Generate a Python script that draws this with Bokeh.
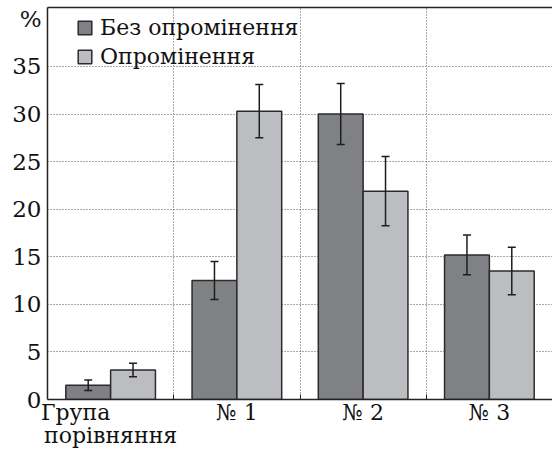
from bokeh.plotting import figure
from bokeh.models import (ColumnDataSource, FixedTicker, LinearAxis, Range1d,
                          Whisker, TeeHead, Legend, LegendItem)
from bokeh.transform import dodge
from bokeh.embed import file_html
from bokeh.resources import INLINE

categories = ["Група\u00a0\u00a0\u00a0\u00a0\u00a0\u00a0\u00a0\u00a0\u00a0\u00a0\nпорівняння", "№ 1", "№ 2", "№ 3"]
series_names = ["Без опромінення", "Опромінення"]
no_irr = [1.5, 12.5, 30.0, 15.2]
no_irr_err = [0.55, 2.0, 3.2, 2.1]
irr = [3.1, 30.3, 21.9, 13.5]
irr_err = [0.72, 2.8, 3.65, 2.5]
y_ticks = [0, 5, 10, 15, 20, 25, 30, 35, 40]
y_unit = "%"

FONT = "DejaVu Serif, serif"
DARK = "#808185"
LIGHT = "#bcbdc1"
EDGE = "#2b2b2b"
TXT = "#111111"
BW = 0.355

xs = [i + 0.5 for i in range(len(categories))]
src = ColumnDataSource(dict(
    x=xs, a=no_irr, b=irr,
    a_lo=[v - e for v, e in zip(no_irr, no_irr_err)],
    a_hi=[v + e for v, e in zip(no_irr, no_irr_err)],
    b_lo=[v - e for v, e in zip(irr, irr_err)],
    b_hi=[v + e for v, e in zip(irr, irr_err)],
))

p = figure(width=552, height=451, output_backend="svg", toolbar_location=None,
           x_range=Range1d(0, len(categories)), y_range=Range1d(0, 41.2),
           min_border_left=47, min_border_right=0, min_border_top=7,
           min_border_bottom=52)
p.outline_line_color = None
p.background_fill_color = "white"

r1 = p.vbar(x=dodge("x", -BW / 2), top="a", width=BW, source=src,
            fill_color=DARK, line_color=EDGE, line_width=1.5)
r2 = p.vbar(x=dodge("x", BW / 2), top="b", width=BW, source=src,
            fill_color=LIGHT, line_color=EDGE, line_width=1.5)

for base, lo, hi in [(dodge("x", -BW / 2), "a_lo", "a_hi"), (dodge("x", BW / 2), "b_lo", "b_hi")]:
    w = Whisker(source=src, base=base, lower=lo, upper=hi, level="overlay",
                line_color="#1e1e1e", line_width=1.5,
                upper_head=TeeHead(size=8, line_color="#1e1e1e", line_width=1.5),
                lower_head=TeeHead(size=8, line_color="#1e1e1e", line_width=1.5))
    p.add_layout(w)

# x axis
xa = p.xaxis[0]
xa.ticker = FixedTicker(ticks=xs, minor_ticks=[1, 2, 3])
xa.major_label_overrides = {x: c for x, c in zip(xs, categories)}
xa.major_tick_in = 0
xa.major_tick_out = 0
xa.minor_tick_in = 5
xa.minor_tick_out = 0
xa.minor_tick_line_color = "#222222"
xa.axis_line_color = "#222222"
xa.axis_line_width = 1.5
xa.major_label_text_font = FONT
xa.major_label_text_font_size = "22px"
xa.major_label_text_color = TXT
xa.major_label_text_line_height = 0.95
xa.major_label_standoff = 0

# y axis
ya = p.yaxis[0]
ya.ticker = FixedTicker(ticks=y_ticks)
ya.major_label_overrides = {y_ticks[-1]: y_unit}
ya.major_tick_in = 0
ya.major_tick_out = 0
ya.minor_tick_line_color = None
ya.axis_line_color = "#222222"
ya.axis_line_width = 1.5
ya.major_label_text_font = FONT
ya.major_label_text_font_size = "23px"
ya.major_label_text_color = TXT
ya.major_label_standoff = 6

# top border line
top = LinearAxis(ticker=FixedTicker(ticks=[]), axis_line_color="#222222",
                 axis_line_width=1.5, major_tick_line_color=None,
                 minor_tick_line_color=None, major_label_text_font_size="0px")
p.add_layout(top, "above")

# grids
p.xgrid.ticker = FixedTicker(ticks=[1, 2, 3])
p.ygrid.ticker = FixedTicker(ticks=y_ticks[1:-1])
for g in (p.xgrid[0], p.ygrid[0]):
    g.grid_line_color = "#555555"
    g.grid_line_dash = "1 2"
    g.grid_line_width = 1

legend = Legend(items=[LegendItem(label=series_names[0], renderers=[r1]),
                       LegendItem(label=series_names[1], renderers=[r2])],
                location=(29, 330), background_fill_alpha=0, border_line_alpha=0,
                padding=0, margin=0, spacing=4, glyph_width=17, glyph_height=17,
                label_standoff=7, label_text_font=FONT, label_text_font_size="22px",
                label_text_color=TXT, label_height=17)
p.add_layout(legend)

open("out.html", "w").write(file_html(p, INLINE))
